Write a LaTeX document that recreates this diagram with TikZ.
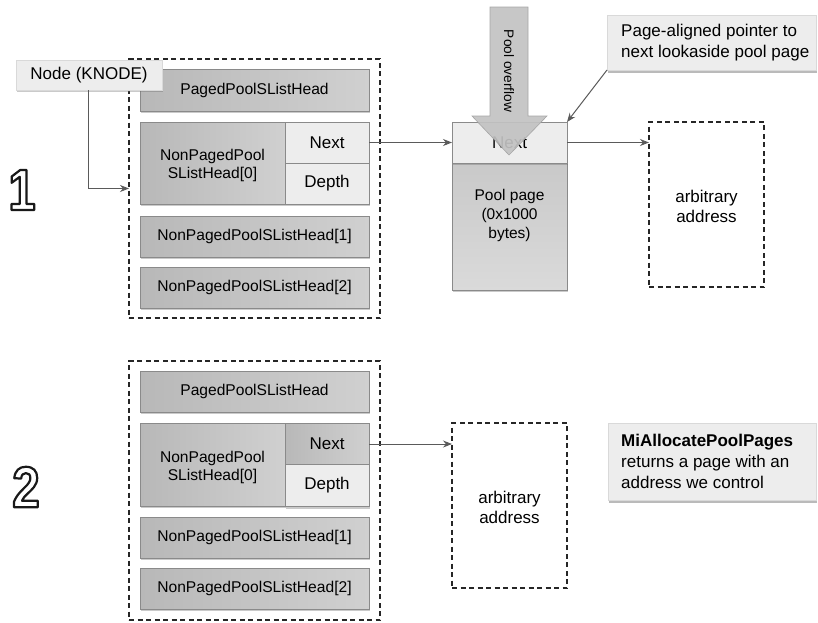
\documentclass[tikz,border=0pt]{standalone}
\usepackage{fontspec}
\setmainfont{Liberation Sans}
\newfontfamily\digitfont[FakeStretch=0.85]{Liberation Sans}
\usetikzlibrary{arrows.meta,shadows,calc}
\definecolor{bdr}{HTML}{8A8A8A}
\definecolor{gdark}{HTML}{B8B8B8}
\definecolor{glight}{HTML}{D0D0D0}
\definecolor{light}{HTML}{EDEDED}
\definecolor{arr}{HTML}{5A5A5A}
\definecolor{ovf}{HTML}{C2C2C2}
\definecolor{pgtop}{HTML}{C9C9C9}
\definecolor{pgbot}{HTML}{DADADA}
\newcommand{\outlinedigit}[1]{{\color{white}\special{pdf:literal direct 0.1 G 2.2 w 1 j 2 Tr}#1\special{pdf:literal direct 0 Tr}}}
\tikzset{
  base/.style={rectangle, draw=bdr, line width=0.8pt, inner sep=0pt, outer sep=0pt, align=center,
    drop shadow={shadow xshift=1pt, shadow yshift=-2pt, opacity=0.35, fill=black!60}},
  gbox/.style={base, left color=gdark, right color=glight, font=\fontsize{15.6}{18}\selectfont},
  lbox/.style={base, fill=light, font=\fontsize{17}{19}\selectfont},
  callout/.style={rectangle, draw=black!15, fill=light, inner sep=0pt, outer sep=0pt,
    drop shadow={shadow xshift=1pt, shadow yshift=-2.5pt, opacity=0.45, fill=black!60}},
  dbox/.style={rectangle, draw=black!85, dashed, dash pattern=on 5pt off 3.5pt, line width=1.3pt, inner sep=0pt, outer sep=0pt},
  conn/.style={draw=arr, line width=1pt, -{Stealth[length=9pt,width=7pt]}},
  txt/.style={font=\fontsize{17}{21}\selectfont, align=left, inner sep=0pt},
  digit/.style={font=\digitfont\bfseries\fontsize{58}{58}\selectfont, inner sep=0pt}
}
\begin{document}
\begin{tikzpicture}[x=1pt,y=-1pt]
\useasboundingbox (0,0) rectangle (818,622);

% ---------- part 1 ----------
\node[dbox, minimum width=251pt, minimum height=259pt] (outer1) at (254.5,188.5) {};
\node[gbox, minimum width=229pt, minimum height=42pt] (paged1) at (254.5,90) {PagedPoolSListHead};
\node[gbox, minimum width=145pt, minimum height=82pt] (np1) at (212.5,163) {};
\node[font=\fontsize{15.6}{18}\selectfont, align=center, inner sep=0pt] (np1t) at (212.5,165) {NonPagedPool\\SListHead[0]};
\node[lbox, minimum width=84pt, minimum height=41pt] (next1) at (327,142.5) {Next};
\node[lbox, minimum width=84pt, minimum height=41pt] (depth1) at (327,183.5) {Depth};
\node[gbox, minimum width=229pt, minimum height=41pt] (na1) at (254.5,236.5) {NonPagedPoolSListHead[1]};
\node[gbox, minimum width=229pt, minimum height=41pt] (nb1) at (254.5,287.5) {NonPagedPoolSListHead[2]};

\node[lbox, draw=black!15, minimum width=146pt, minimum height=30pt] (knode) at (89,75) {Node (KNODE)};
\draw[conn] ([xshift=-1pt]knode.south) |- (outer1.west);

\node[digit] (d1) at (22,190) {\outlinedigit{1}};

% pool page
\node[base, top color=pgtop, bottom color=pgbot, minimum width=115pt, minimum height=127pt] (body) at (509.5,226.5) {};
\node[font=\fontsize{15.5}{19}\selectfont, align=center, inner sep=0pt] (pptext) at (509.5,215) {Pool page\\(0x1000\\bytes)};
\node[lbox, minimum width=115pt, minimum height=41pt] (nextP) at (509.5,142.5) {Next};

% overflow arrow
\draw[draw=black!35, fill=ovf, fill opacity=0.92, line width=0.6pt]
  (490,7) -- (528,7) -- (528,116) -- (547,116) -- (509,155) -- (472,116) -- (490,116) -- cycle;
\node[rotate=-90, font=\fontsize{13.7}{15}\selectfont, inner sep=0pt] (ovtext) at (509,71) {Pool overflow};

\draw[conn] (next1.east) -- (nextP.west);

\node[dbox, minimum width=115pt, minimum height=165pt] (arb1) at (706.5,204.5) {};
\node[font=\fontsize{17}{20}\selectfont, align=center, inner sep=0pt] (arb1t) at (706.5,206) {arbitrary\\address};
\draw[conn] (nextP.east) -- (nextP.east -| arb1.west);

\node[callout, minimum width=209pt, minimum height=55pt] (call1) at (711.5,42.5) {};
\node[txt, anchor=west] (call1t) at (621,42.5) {Page-aligned pointer to\\next lookaside pool page};
\draw[conn] (call1.south west) -- (nextP.north east);

% ---------- part 2 ----------
\node[dbox, minimum width=251pt, minimum height=259pt] (outer2) at (254.5,490.5) {};
\node[gbox, minimum width=229pt, minimum height=41pt] (paged2) at (254.5,391.5) {PagedPoolSListHead};
\node[gbox, minimum width=145pt, minimum height=83pt] (np2) at (212.5,464.5) {};
\node[font=\fontsize{15.6}{18}\selectfont, align=center, inner sep=0pt] (np2t) at (212.5,467) {NonPagedPool\\SListHead[0]};
\node[gbox, minimum width=84pt, minimum height=41pt, font=\fontsize{17}{19}\selectfont] (next2) at (327,444) {Next};
\node[lbox, minimum width=84pt, minimum height=42pt] (depth2) at (327,485.5) {Depth};
\node[gbox, minimum width=229pt, minimum height=41pt] (na2) at (254.5,537.5) {NonPagedPoolSListHead[1]};
\node[gbox, minimum width=229pt, minimum height=41pt] (nb2) at (254.5,588.5) {NonPagedPoolSListHead[2]};

\node[digit] (d2) at (26,487) {\outlinedigit{2}};

\node[dbox, minimum width=115pt, minimum height=165pt] (arb2) at (509.5,505.5) {};
\node[font=\fontsize{17}{20}\selectfont, align=center, inner sep=0pt] (arb2t) at (509.5,507) {arbitrary\\address};
\draw[conn] (next2.east) -- (next2.east -| arb2.west);

\node[callout, minimum width=208pt, minimum height=77pt] (call2) at (712,461.5) {};
\node[txt, anchor=west] (call2t) at (621,461.5) {\textbf{MiAllocatePoolPages}\\returns a page with an\\address we control};
\end{tikzpicture}
\end{document}
